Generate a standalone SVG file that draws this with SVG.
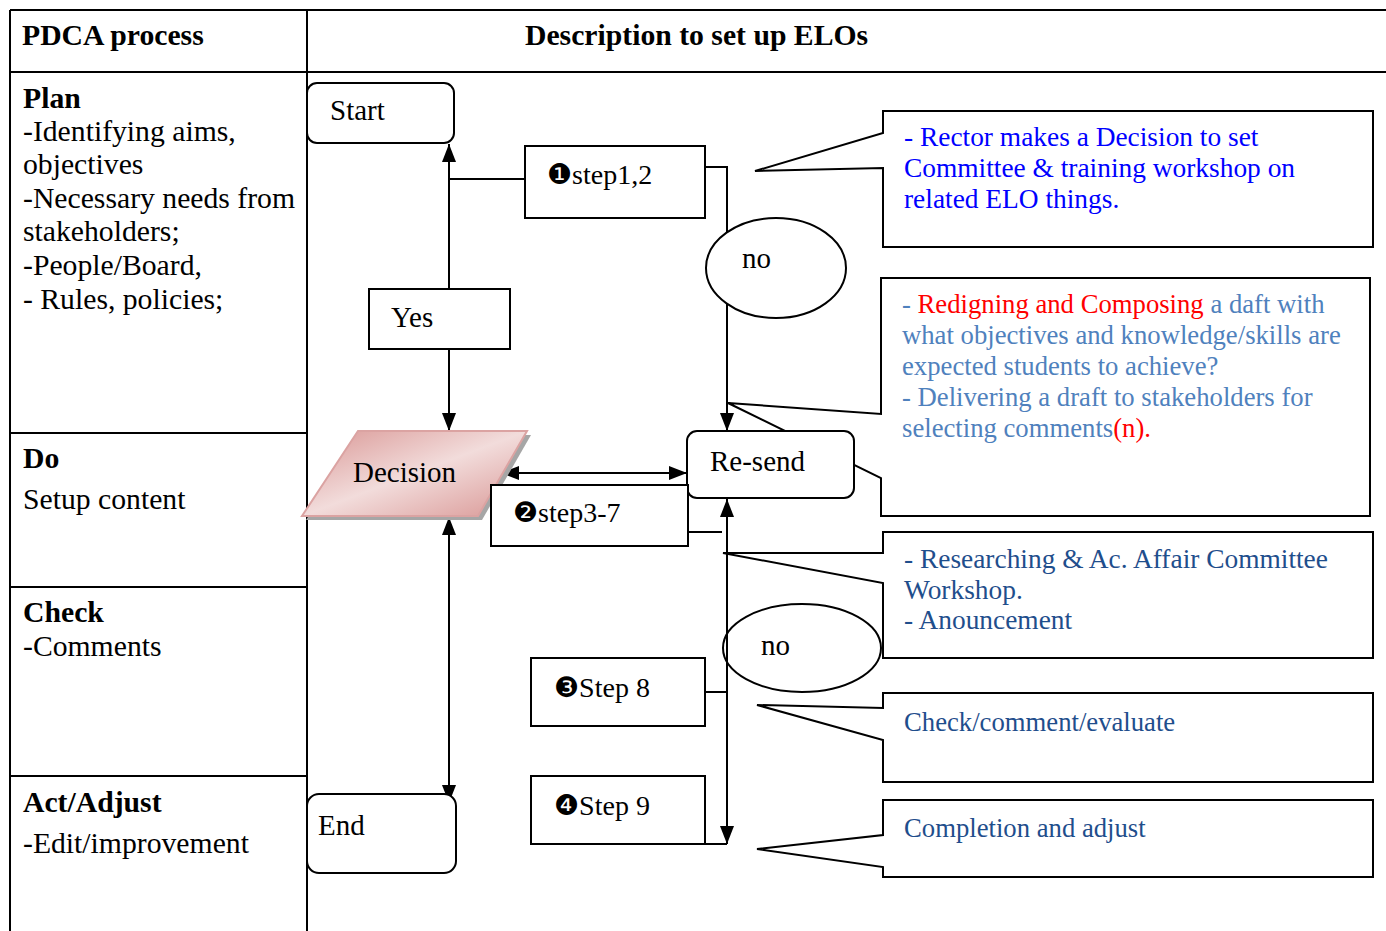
<svg xmlns="http://www.w3.org/2000/svg" width="1386" height="931" viewBox="0 0 1386 931">
<style>
.t{font-family:"Liberation Serif","DejaVu Sans",serif;fill:#000}
.tb{font-family:"Liberation Serif",serif;font-weight:bold;font-size:29.7px;fill:#000}
.tl{font-size:29.7px}
.fc{font-size:29px}
.st{font-size:28px}
.co{font-size:27.4px}
.co2{font-size:26.7px}
.grid{stroke:#000;stroke-width:2;fill:none}
.box{fill:#fff;stroke:#000;stroke-width:2}
.cl{fill:#fff;stroke:#000;stroke-width:2;stroke-linejoin:miter}
.ln{fill:none;stroke:#000;stroke-width:2}
.blue{fill:#0000ff}
.sb{fill:#4f81bd}
.red{fill:#ff0000}
.nv{fill:#1f4e8c}
</style>
<defs>
<marker id="ah" viewBox="0 0 18 14" refX="18" refY="7" markerWidth="18" markerHeight="14" markerUnits="userSpaceOnUse" orient="auto-start-reverse">
<path d="M0,0 L18,7 L0,14 Z" fill="#000"/>
</marker>
<linearGradient id="pink" x1="0" y1="0" x2="1" y2="1">
<stop offset="0" stop-color="#d99694"/>
<stop offset="0.5" stop-color="#f2dcdb"/>
<stop offset="1" stop-color="#d99694"/>
</linearGradient>
</defs>
<rect width="1386" height="931" fill="#fff"/>
<g id="table">
<path class="grid" d="M10,10 H1386 M10,72 H1386 M10,10 V931 M307,10 V931 M10,433 H307 M10,587 H307 M10,776 H307"/>
<text class="tb" x="22" y="45">PDCA process</text>
<text class="tb" x="525" y="45">Description to set up ELOs</text>
</g>
<g id="plan">
<text class="tb" x="23" y="108">Plan</text>
<text class="t tl" x="23"><tspan x="23" y="141">-Identifying aims,</tspan><tspan x="23" y="174">objectives</tspan><tspan x="23" y="208">-Necessary needs from</tspan><tspan x="23" y="241">stakeholders;</tspan><tspan x="23" y="275">-People/Board,</tspan><tspan x="23" y="309">- Rules, policies;</tspan></text>
</g>
<g id="do">
<text class="tb" x="23" y="468">Do</text>
<text class="t tl" x="23" y="509">Setup content</text>
</g>
<g id="check">
<text class="tb" x="23" y="622">Check</text>
<text class="t tl" x="23" y="656">-Comments</text>
</g>
<g id="act">
<text class="tb" x="23" y="812">Act/Adjust</text>
<text class="t tl" x="23" y="853">-Edit/improvement</text>
</g>
<g id="callout1">
<path class="cl" d="M883,111 H1373 V247 H883 V168 L755,171 L883,133 Z"/>
<text class="t co blue"><tspan x="904" y="146">- Rector makes a Decision to set</tspan><tspan x="904" y="177">Committee &amp; training workshop on</tspan><tspan x="904" y="208">related ELO things.</tspan></text>
</g>
<g id="callout2">
<path class="cl" d="M881,278 H1370 V516 H881 V478 L728,403 L881,414 Z"/>
<text class="t co2"><tspan x="902" y="313"><tspan class="sb">- </tspan><tspan class="red">Redigning and Composing</tspan><tspan class="sb"> a daft with</tspan></tspan><tspan class="sb" x="902" y="344">what objectives and knowledge/skills are</tspan><tspan class="sb" x="902" y="375">expected students to achieve?</tspan><tspan class="sb" x="902" y="406">-  Delivering a draft to stakeholders for</tspan><tspan x="902" y="437"><tspan class="sb">selecting comments</tspan><tspan class="red">(n).</tspan></tspan></text>
</g>
<g id="callout3">
<path class="cl" d="M883,532 H1373 V658 H883 V583 L723,553 H883 Z"/>
<text class="t co nv"><tspan x="904" y="568">- Researching &amp; Ac. Affair Committee</tspan><tspan x="904" y="599">Workshop.</tspan><tspan x="904" y="629">- Anouncement</tspan></text>
</g>
<g id="callout4">
<path class="cl" d="M883,693 H1373 V782 H883 V740 L757,705 L883,708 Z"/>
<text class="t co2 nv" x="904" y="731">Check/comment/evaluate</text>
</g>
<g id="callout5">
<path class="cl" d="M883,800 H1373 V877 H883 V867 L757,849 L883,835 Z"/>
<text class="t co2 nv" x="904" y="837">Completion and adjust</text>
</g>
<g id="no2">
<ellipse cx="802" cy="648" rx="79" ry="44" fill="none" stroke="#000" stroke-width="2"/>
<text class="t fc" x="761" y="655">no</text>
</g>
<g id="connectors">
<path class="ln" d="M449,289 V144" marker-end="url(#ah)"/>
<path class="ln" d="M449,349 V431" marker-end="url(#ah)"/>
<path class="ln" d="M449,179 H525"/>
<path class="ln" d="M705,167 H727 V431" marker-end="url(#ah)"/>
<path class="ln" d="M501,473 H687" marker-start="url(#ah)" marker-end="url(#ah)"/>
<path class="ln" d="M449,517 V803" marker-start="url(#ah)" marker-end="url(#ah)"/>
<path class="ln" d="M688,532 H722"/>
<path class="ln" d="M727,499 V844" marker-start="url(#ah)" marker-end="url(#ah)"/>
<path class="ln" d="M705,692 H727"/>
<path class="ln" d="M705,844 H727"/>
</g>
<g id="start">
<rect class="box" x="307" y="83" width="147" height="60" rx="10"/>
<text class="t fc" x="330" y="120">Start</text>
</g>
<g id="step12">
<rect class="box" x="525" y="146" width="180" height="72"/>
<text class="t st" x="547" y="184">❶step1,2</text>
</g>
<g id="no1">
<ellipse cx="776" cy="268" rx="70" ry="50" fill="#fff" stroke="#000" stroke-width="2"/>
<text class="t fc" x="742" y="268">no</text>
</g>
<g id="yes">
<rect class="box" x="369" y="289" width="141" height="60"/>
<text class="t fc" x="391" y="327">Yes</text>
</g>
<g id="decision">
<polygon points="361,435 531,435 482,520 306,520" fill="#a6a6a6"/>
<polygon points="358,431 527,431 478,516 302,516" fill="url(#pink)" stroke="#dba3a2" stroke-width="2"/>
<text class="t fc" x="353" y="482">Decision</text>
</g>
<g id="resend">
<rect class="box" x="687" y="431" width="167" height="67" rx="10"/>
<text class="t fc" x="710" y="471">Re-send</text>
</g>
<g id="step37">
<rect class="box" x="491" y="485" width="197" height="61"/>
<text class="t st" x="513" y="522">❷step3-7</text>
</g>
<g id="step8">
<rect class="box" x="531" y="658" width="174" height="68"/>
<text class="t st" x="554" y="697">❸Step 8</text>
</g>
<g id="step9">
<rect class="box" x="531" y="776" width="174" height="68"/>
<text class="t st" x="554" y="815">❹Step 9</text>
</g>
<g id="end">
<rect class="box" x="307" y="794" width="149" height="79" rx="12"/>
<text class="t fc" x="318" y="835">End</text>
</g>
</svg>
